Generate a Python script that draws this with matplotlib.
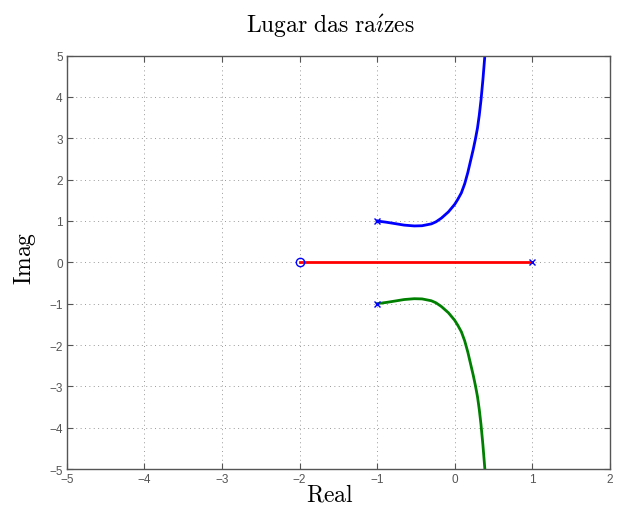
import numpy as np
import matplotlib
matplotlib.use("Agg")
import matplotlib.pyplot as plt

plt.rcParams['mathtext.fontset'] = 'cm'

# upper complex branch, lower one is its mirror
branch_x = [-1.0, -0.88, -0.78, -0.65, -0.52, -0.42, -0.30, -0.24, -0.17, -0.08,
            0.0, 0.04, 0.087, 0.13, 0.17, 0.205, 0.24, 0.268, 0.295, 0.318, 0.34, 0.365, 0.39]
branch_y = [1.0, 0.97, 0.94, 0.90, 0.88, 0.885, 0.93, 0.98, 1.07, 1.22,
            1.40, 1.52, 1.68, 1.90, 2.17, 2.45, 2.73, 2.98, 3.25, 3.56, 3.92, 4.42, 5.0]
real_x = [-2.0, 1.0]
real_y = [0.0, 0.0]
poles_x = [-1.0, -1.0, 1.0]
poles_y = [1.0, -1.0, 0.0]
zeros_x = [-2.0]
zeros_y = [0.0]

xticks = [-5, -4, -3, -2, -1, 0, 1, 2]
yticks = [-5, -4, -3, -2, -1, 0, 1, 2, 3, 4, 5]

gray = '#555555'

fig = plt.figure(figsize=(6.19, 5.06), dpi=100)
ax = fig.add_axes([0.108, 0.0711, 0.877, 0.817])

ax.plot(real_x, real_y, color='red', lw=2)
ax.plot(branch_x, branch_y, color='blue', lw=2)
ax.plot(branch_x, -np.array(branch_y), color='green', lw=2)
ax.plot(poles_x, poles_y, 'x', color='blue', ms=4, mew=1)
ax.plot(zeros_x, zeros_y, 'o', color='blue', ms=6, mfc='none', mew=1)

ax.set_xlim(-5, 2)
ax.set_ylim(-5, 5)
ax.set_xticks(xticks)
ax.set_yticks(yticks)
ax.set_xticklabels(['\u2212%d' % -t if t < 0 else str(t) for t in xticks])
ax.set_yticklabels(['\u2212%d' % -t if t < 0 else str(t) for t in yticks])
ax.tick_params(direction='in', length=4, width=0.8, colors=gray, labelsize=8.5,
               top=True, right=True, pad=3)
for lab in ax.get_xticklabels() + ax.get_yticklabels():
    lab.set_family('Liberation Sans')
for s in ax.spines.values():
    s.set_color(gray)
    s.set_linewidth(1.0)
ax.grid(True, linestyle=(0, (1, 3.5)), color='#999999', lw=0.7)

fig.text(330 / 619, 1 - 26 / 506, r'$\mathrm{Lugar\ das\ ra\acute{\imath}zes}$',
         ha='center', va='center', fontsize=17)
fig.text(330 / 619, 1 - 495 / 506, r'$\mathrm{Real}$', ha='center', va='center', fontsize=17)
fig.text(25 / 619, 1 - 258 / 506, r'$\mathrm{Imag}$', ha='center', va='center',
         fontsize=17, rotation=90)

fig.savefig('out.png', dpi=100)
